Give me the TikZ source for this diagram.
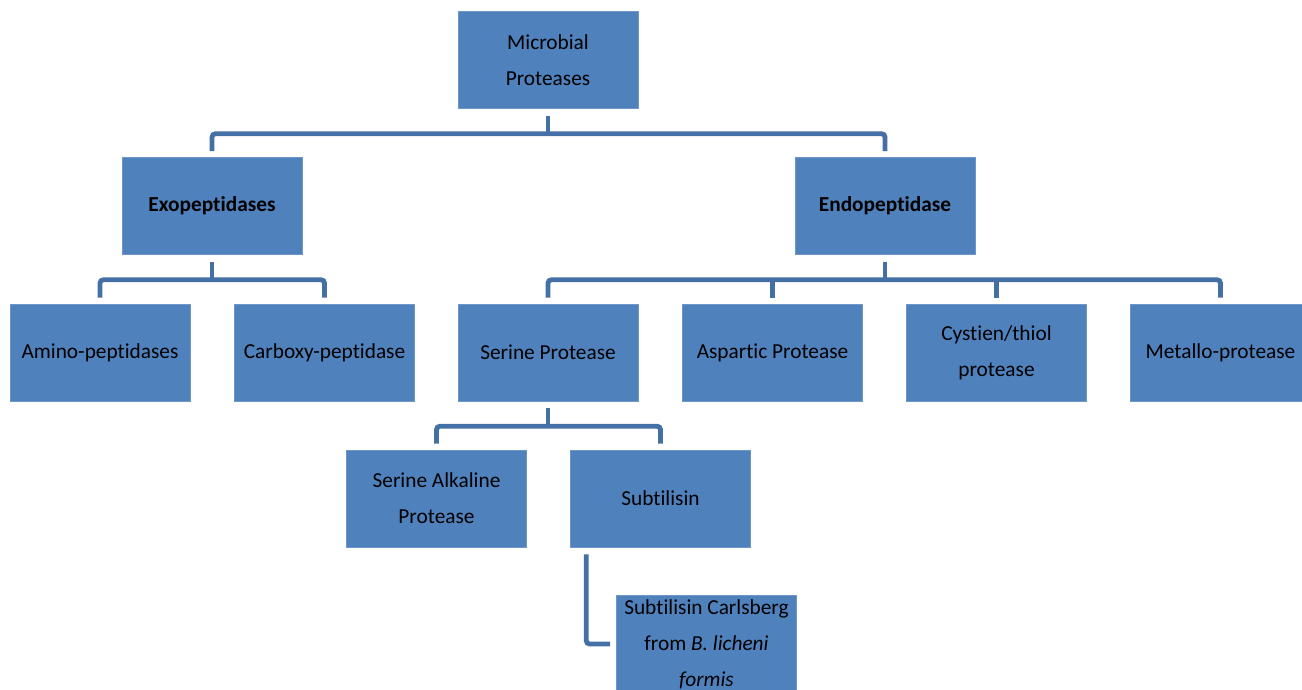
\documentclass[tikz,border=0pt]{standalone}
\usepackage{fontspec}
\setmainfont[RawFeature={-liga}]{Carlito}
\usetikzlibrary{calc}
\definecolor{boxfill}{RGB}{79,129,189}
\definecolor{boxline}{RGB}{110,150,200}
\definecolor{connc}{RGB}{68,112,166}
\tikzset{
  box/.style={rectangle, fill=boxfill, draw=boxline, line width=0.4pt,
    minimum width=135pt, minimum height=72.75pt, inner sep=2pt,
    align=center, text=black,
    font=\fontsize{16}{27}\selectfont},
  boldbox/.style={box, font=\fontsize{16}{27}\selectfont\bfseries},
  conn/.style={draw=connc, line width=3.6pt, rounded corners=2.5pt, line cap=butt}
}
\begin{document}
\begin{tikzpicture}[x=0.75pt,y=-0.75pt]
\useasboundingbox (0,0) rectangle (1302,689);
\clip (0,0) rectangle (1302,689);
\node[box] (mp) at (548,60) {Microbial\\Proteases};
\node[boldbox] (exo) at (212,206) {Exopeptidases};
\node[boldbox] (endo) at (885,206) {Endopeptidase};
\node[box] (amino) at (100,352.5) {Amino-peptidases};
\node[box] (carb) at (324.5,352.5) {Carboxy-peptidase};
\node[box] (ser) at (548,352.5) {Serine Protease};
\node[box] (asp) at (772.5,352.5) {Aspartic Protease};
\node[box] (cys) at (996.5,352.5) {Cystien/thiol\\protease};
\node[box] (met) at (1220.5,352.5) {Metallo-protease};
\node[box] (sap) at (436.5,498.5) {Serine Alkaline\\Protease};
\node[box] (sub) at (660.5,498.5) {Subtilisin};
\node[box] (carl) at (706.5,644) {Subtilisin Carlsberg\\from \textit{B. licheni}\\\textit{formis}};
% bar coordinates
\coordinate (mbar) at ($(mp.south)+(0,25)$);
\coordinate (xbar) at ($(exo.south)+(0,25)$);
\coordinate (ebar) at ($(endo.south)+(0,25)$);
\coordinate (sbar) at ($(ser.south)+(0,25)$);
% level 1
\draw[conn] ($(mp.south)+(0,7)$) -- (mbar);
\draw[conn] ($(exo.north)+(0,-6)$) |- (mbar) -| ($(endo.north)+(0,-6)$);
% exo children
\draw[conn] ($(exo.south)+(0,7)$) -- (xbar);
\draw[conn] ($(amino.north)+(0,-6)$) |- (xbar) -| ($(carb.north)+(0,-6)$);
% endo children
\draw[conn] ($(endo.south)+(0,7)$) -- (ebar);
\draw[conn] ($(ser.north)+(0,-6)$) |- (ebar) -| ($(met.north)+(0,-6)$);
\draw[conn] ($(asp.north)+(0,-6)$) -- (asp.north |- ebar);
\draw[conn] ($(cys.north)+(0,-6)$) -- (cys.north |- ebar);
% serine children
\draw[conn] ($(ser.south)+(0,7)$) -- (sbar);
\draw[conn] ($(sap.north)+(0,-6)$) |- (sbar) -| ($(sub.north)+(0,-6)$);
% subtilisin child
\draw[conn] ($(sub.south west)+(16,7)$) |- ($(carl.west)+(-6,0)$);
\end{tikzpicture}
\end{document}
